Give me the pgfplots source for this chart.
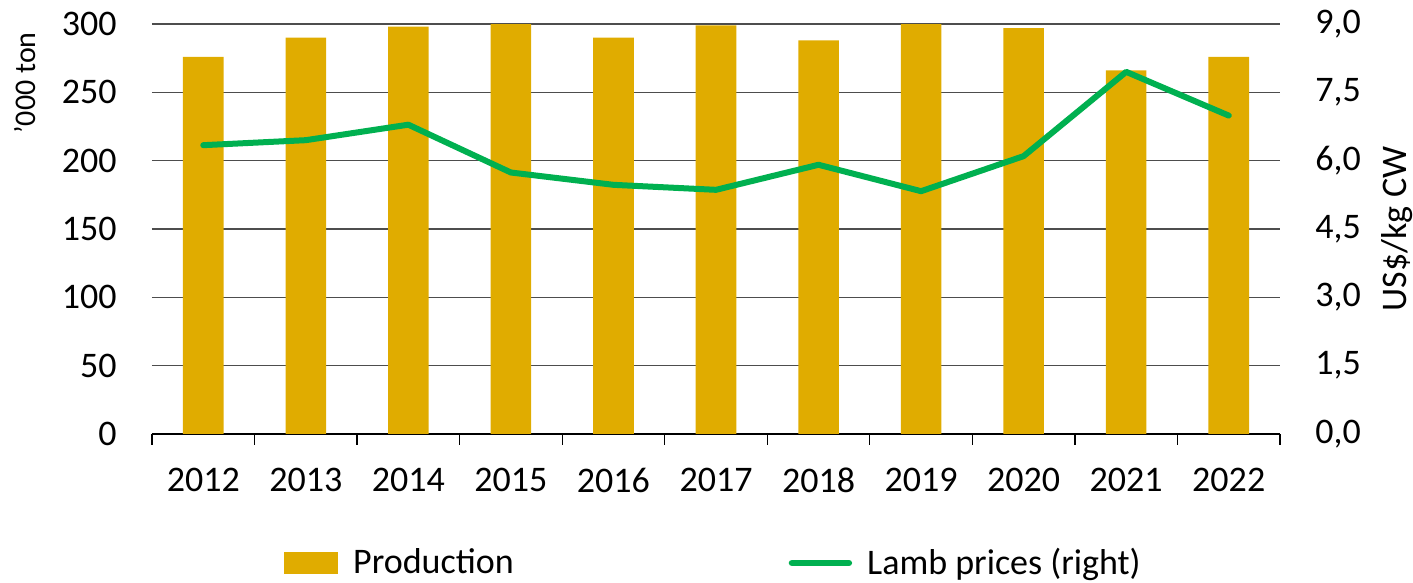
\documentclass[border=0pt]{standalone}
\usepackage{pgfplots}
\pgfplotsset{compat=1.18}
\usepackage{fontspec}
\setmainfont{Carlito}
\definecolor{barcol}{HTML}{E0AC00}
\definecolor{linecol}{HTML}{00B050}
\definecolor{gridcol}{HTML}{4D4D4D}
\begin{document}
\begin{tikzpicture}
\path[use as bounding box] (-76pt,-74.5pt) rectangle (630.5pt,217pt);
\begin{axis}[
  scale only axis, width=564pt, height=205pt,
  xmin=-0.5, xmax=10.5, ymin=0, ymax=300,
  axis lines*=left,
  y axis line style={draw=none},
  x axis line style={black, line width=0.6pt},
  ytick={0,50,...,300},
  ytick style={draw=none},
  ymajorgrids, grid style={gridcol, line width=0.6pt},
  xtick={0,...,10},
  xticklabels={2012,2013,2014,2015,2016,2017,2018,2019,2020,2021,2022},
  major x tick style={draw=none},
  major tick length=0pt,
  minor xtick={-0.5,0.5,...,10.5},
  minor x tick style={black, line width=0.6pt},
  minor tick length=5.5pt,
  tick align=outside,
  /pgf/number format/assume math mode=true,
  tick label style={font=\fontsize{18}{22}\selectfont},
  yticklabel style={inner sep=0pt, anchor=east, xshift=-17.5pt},
  xticklabel style={inner sep=0pt, anchor=north, yshift=-17pt},
  every axis y label/.style={at={(axis description cs:-0.1126,0.9805)}, anchor=east, rotate=90, font=\fontsize{15}{18}\selectfont, inner sep=0pt},
  ylabel={’000 ton},
  ybar, bar width=20.3pt,
]
\addplot[fill=barcol, draw=none] coordinates {
(0,276) (1,290) (2,298) (3,300) (4,290) (5,299) (6,288) (7,301) (8,297) (9,266) (10,276)};
\end{axis}
\begin{axis}[
  scale only axis, width=564pt, height=205pt,
  xmin=-0.5, xmax=10.5, ymin=0, ymax=9,
  axis x line=none,
  axis y line*=right,
  y axis line style={draw=none},
  ytick={0,1.5,3,4.5,6,7.5,9},
  ytick style={draw=none},
  major tick length=0pt,
  /pgf/number format/.cd, fixed, fixed zerofill, precision=1, use comma, assume math mode=true,
  /pgfplots/.cd,
  tick label style={font=\fontsize{18}{22}\selectfont},
  yticklabel style={inner sep=0pt, anchor=west, xshift=17.5pt},
  every axis y label/.style={at={(axis description cs:1.1037,0.5)}, anchor=center, rotate=90, font=\fontsize{18}{22}\selectfont, inner sep=0pt},
  ylabel={US\$/kg CW},
  legend style={at={(axis description cs:0.117,-0.3146)}, anchor=west, draw=none, fill=none,
    legend columns=2, font=\fontsize{18}{22}\selectfont, inner sep=0pt,
    nodes={inner sep=0pt},
    /tikz/every odd column/.append style={column sep=7.5pt},
    /tikz/every even column/.append style={column sep=137.5pt}},
  legend cell align=left,
]
\addlegendimage{legend image code/.code={\fill[barcol] (0pt,-5.25pt) rectangle (26.5pt,5.25pt);}}
\addlegendentry{Production}
\addplot[linecol, line width=3pt, line join=round, line cap=round,
  legend image code/.code={\draw[linecol, line width=3.2pt, line cap=round] (0pt,0pt) -- (28.5pt,0pt);}]
  coordinates {
(0,6.34) (1,6.45) (2,6.79) (3,5.74) (4,5.47) (5,5.36) (6,5.91) (7,5.33) (8,6.10) (9,7.95) (10,6.99)};
\addlegendentry{Lamb prices (right)}
\end{axis}
\end{tikzpicture}
\end{document}
